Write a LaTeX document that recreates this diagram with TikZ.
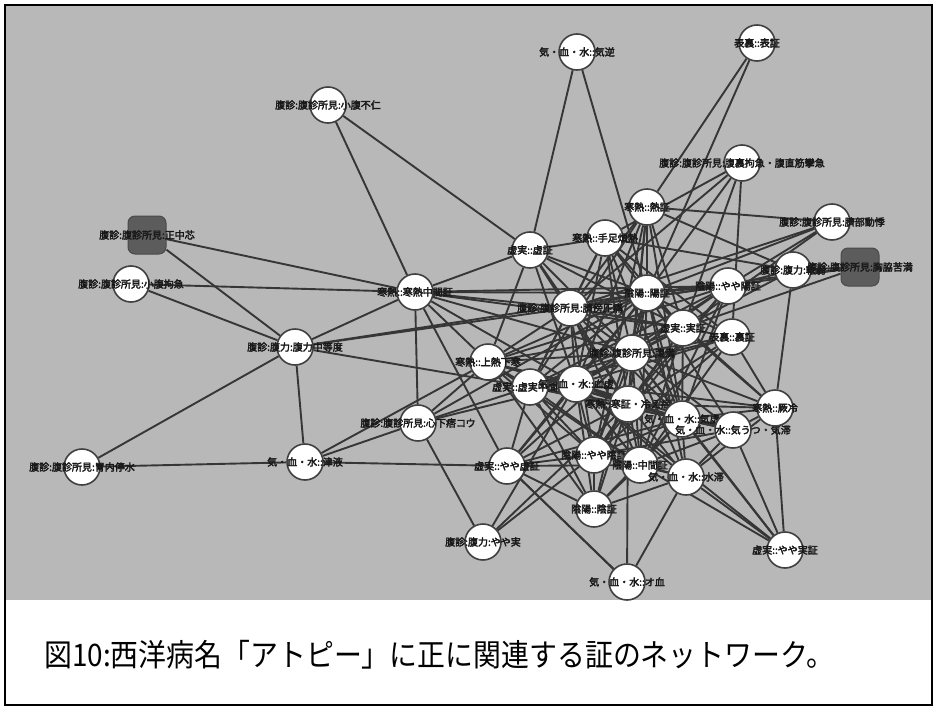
\documentclass[tikz,border=0pt]{standalone}
\usepackage{fontspec}
\usepackage{tikz}
\newfontfamily\labfont{Noto Sans CJK JP}[FakeBold=3]
\newfontfamily\captfont{Noto Sans CJK JP}[FakeStretch=0.9]
\definecolor{PaneGray}{HTML}{B8B8B8}
\definecolor{LinkGray}{HTML}{363636}
\definecolor{RimGray}{HTML}{404040}
\definecolor{BoxGray}{HTML}{5C5C5C}
\pgfdeclarelayer{pane}
\pgfdeclarelayer{links}
\pgfsetlayers{pane,links,main}

\begin{document}
\begin{tikzpicture}[x=1pt,y=-1pt,
  vert/.style={draw=RimGray, line width=1.6pt, fill=white, circle, minimum size=36pt, inner sep=0pt},
  cube/.style={draw=BoxGray!80!black, line width=1pt, fill=BoxGray, rounded corners=7pt, minimum size=38pt, inner sep=0pt},
  lab/.style={font=\labfont\fontsize{10}{11}\selectfont, text=black!90, inner sep=0pt},
  link/.style={draw=LinkGray, line width=1.9pt}]
  \useasboundingbox (0,0) rectangle (936,709);
  \begin{pgfonlayer}{pane}
    \fill[PaneGray] (5,5) rectangle (932,600);
  \end{pgfonlayer}

  % outer ring
  \node[vert, label={[lab]center:{腹診:腹診所見:小腹不仁}}] (fuj) at (328,105) {};
  \node[vert, label={[lab]center:{気・血・水::気逆}}] (kig) at (577,52) {};
  \node[vert, label={[lab]center:{表裏::表証}}] (hyo) at (757,43) {};
  \node[vert, label={[lab]center:{腹診:腹診所見:腹裏拘急・腹直筋攣急}}] (rik) at (742,163) {};
  \node[vert, label={[lab]center:{腹診:腹診所見:臍部動悸}}] (sai) at (832,222) {};
  \node[cube, label={[lab]center:{腹診:腹診所見:正中芯}}] (sei) at (147,235) {};
  \node[vert, label={[lab]center:{腹診:腹診所見:小腹拘急}}] (kok) at (131,284) {};
  \node[vert, label={[lab]center:{腹診:腹力:腹力中等度}}] (cht) at (295,347) {};
  \node[vert, label={[lab]center:{腹診:腹診所見:胃内停水}}] (ina) at (82,467) {};
  \node[vert, label={[lab]center:{気・血・水::津液}}] (shn) at (305,462) {};
  \node[vert, label={[lab]center:{腹診:腹診所見:心下痞コウ}}] (shi) at (418,423) {};
  \node[vert, label={[lab]center:{腹診:腹力:やや実}}] (yjt) at (483,542) {};
  \node[vert, label={[lab]center:{気・血・水::オ血}}] (oke) at (627,582) {};
  \node[vert, label={[lab]center:{虚実::やや実証}}] (yjs) at (785,550) {};

  % inner cluster
  \node[vert, label={[lab]center:{寒熱::寒熱中間証}}] (kch) at (415,292) {};
  \node[vert, label={[lab]center:{虚実::虚証}}] (kyo) at (530,250) {};
  \node[vert, label={[lab]center:{寒熱::手足煩熱}}] (tes) at (605,238) {};
  \node[vert, label={[lab]center:{寒熱::熱証}}] (net) at (647,207) {};
  \node[vert, label={[lab]center:{腹診:腹診所見:臍傍圧痛}}] (sk1) at (570,308) {};
  \node[vert, label={[lab]center:{陰陽::陽証}}] (yos) at (647,293) {};
  \node[vert, label={[lab]center:{陰陽::やや陽証}}] (yyo) at (728,286) {};
  \node[vert, label={[lab]center:{腹診:腹力:軟弱}}] (nan) at (793,270) {};
  \node[cube, label={[lab]center:{腹診:腹診所見:胸脇苦満}}] (kyk) at (860,267) {};
  \node[vert, label={[lab]center:{虚実::実証}}] (jis) at (683,328) {};
  \node[vert, label={[lab]center:{表裏::裏証}}] (ris) at (732,337) {};
  \node[vert, label={[lab]center:{寒熱::上熱下寒}}] (jon) at (488,362) {};
  \node[vert, label={[lab]center:{腹診:腹診所見:腹満}}] (sk2) at (632,353) {};
  \node[vert, label={[lab]center:{虚実::虚実中間証}}] (kjc) at (530,387) {};
  \node[vert, label={[lab]center:{気・血・水::血虚}}] (kek) at (576,384) {};
  \node[vert, label={[lab]center:{寒熱::寒証・冷え症}}] (kan) at (628,404) {};
  \node[vert, label={[lab]center:{気・血・水::気虚}}] (kik) at (682,419) {};
  \node[vert, label={[lab]center:{気・血・水::気うつ・気滞}}] (kiu) at (733,430) {};
  \node[vert, label={[lab]center:{寒熱::厥冷}}] (ket) at (775,408) {};
  \node[vert, label={[lab]center:{虚実::やや虚証}}] (yky) at (507,466) {};
  \node[vert, label={[lab]center:{陰陽::やや陰証}}] (yin) at (594,455) {};
  \node[vert, label={[lab]center:{陰陽::中間証}}] (chk) at (640,465) {};
  \node[vert, label={[lab]center:{気・血・水::水滞}}] (sui) at (686,477) {};
  \node[vert, label={[lab]center:{陰陽::陰証}}] (ins) at (594,509) {};

  \begin{pgfonlayer}{links}
    \foreach \a/\b in {fuj/kch, fuj/kyo, kig/kyo, kig/yos, hyo/net, hyo/yos,
        rik/tes, rik/yos, rik/sk1, rik/jis, rik/ris,
        sei/kch, sei/cht, kok/kch, kok/cht, ina/cht, ina/shn,
        cht/kch, cht/sk1, cht/yos, cht/shn, cht/kjc,
        shn/shi, shn/jon, shn/yky,
        shi/kch, shi/jon, shi/kjc, shi/yjt, shi/kek, shi/yos,
        kch/kyo, kch/yos, kch/sk1, kch/yyo, kch/jis, kch/sk2, kch/jon, kch/yky, kch/kek,
        kyo/sk1, kyo/yos, kyo/jon, kyo/sk2, kyo/jis, kyo/tes, kyo/kan, kyo/kek,
        net/sk1, net/yos, net/jis, net/kek, net/kan, net/kik, net/sk2, net/kjc, net/yin,
        tes/yos, tes/sk1, tes/kek, tes/jis, tes/kjc, tes/kan, tes/sk2, tes/ris, tes/kik,
        sai/yyo, sai/yos, sai/jis, sai/net, sai/sk1,
        kyk/nan, kyk/jis, kyk/yos, kyk/sk1,
        nan/ket, nan/yyo, nan/tes, nan/net, nan/kek,
        yyo/sk1, yyo/yos, yyo/kek, yyo/kan, yyo/kjc, yyo/sk2, yyo/kik, yyo/yin, yyo/chk, yyo/jon,
        sk1/yos, sk1/jon, sk1/sk2, sk1/jis, sk1/kjc, sk1/kek, sk1/kan, sk1/kik, sk1/ris, sk1/yin, sk1/chk,
        yos/jis, yos/sk2, yos/jon, yos/kjc, yos/kek, yos/kan, yos/kik, yos/yin, yos/chk, yos/sui,
        yos/ris, yos/kiu, yos/ket, yos/yky,
        jis/sk2, jis/jon, jis/kek, jis/kan, jis/kik, jis/kjc, jis/yin, jis/chk, jis/ket,
        ris/sk2, ris/kek, ris/kan, ris/ket, ris/kjc, ris/yin, ris/chk,
        jon/sk2, jon/kjc, jon/kek, jon/kan, jon/kik, jon/yin, jon/ins, jon/chk,
        sk2/kjc, sk2/kek, sk2/kan, sk2/kik, sk2/kiu, sk2/yin, sk2/chk, sk2/sui, sk2/ket, sk2/ins, sk2/yky,
        kjc/kek, kjc/kan, kjc/kik, kjc/yky, kjc/yin, kjc/ins, kjc/chk, kjc/kiu,
        kek/kan, kek/kik, kek/kiu, kek/yin, kek/chk, kek/sui, kek/ins, kek/yky, kek/yjt, kek/ket,
        kan/kik, kan/kiu, kan/yin, kan/chk, kan/sui, kan/ins, kan/oke, kan/yky, kan/ket,
        kik/kiu, kik/yin, kik/chk, kik/sui, kik/ins, kik/yky, kik/yjs,
        ket/kiu, ket/kik, ket/sui, ket/yjs,
        kiu/yin, kiu/chk, kiu/sui, kiu/yjs,
        yky/yin, yky/chk, yky/oke, yky/ins,
        yin/chk, yin/ins, yin/yjt, yin/sui,
        chk/sui, chk/ins, chk/yjs, sui/oke, sui/yjs, sui/ins,
        yjt/kan, oke/yky, yjs/kek, yjs/sk2}
      \draw[link] (\a) -- (\b);
  \end{pgfonlayer}

  \draw[line width=2.5pt] (5,5) rectangle (932,705);
  \node[font=\captfont\fontsize{31}{33}\selectfont, anchor=west, inner sep=0pt] (capt) at (44,655)
    {図10:西洋病名「アトピー」に正に関連する証のネットワーク。};
\end{tikzpicture}
\end{document}
